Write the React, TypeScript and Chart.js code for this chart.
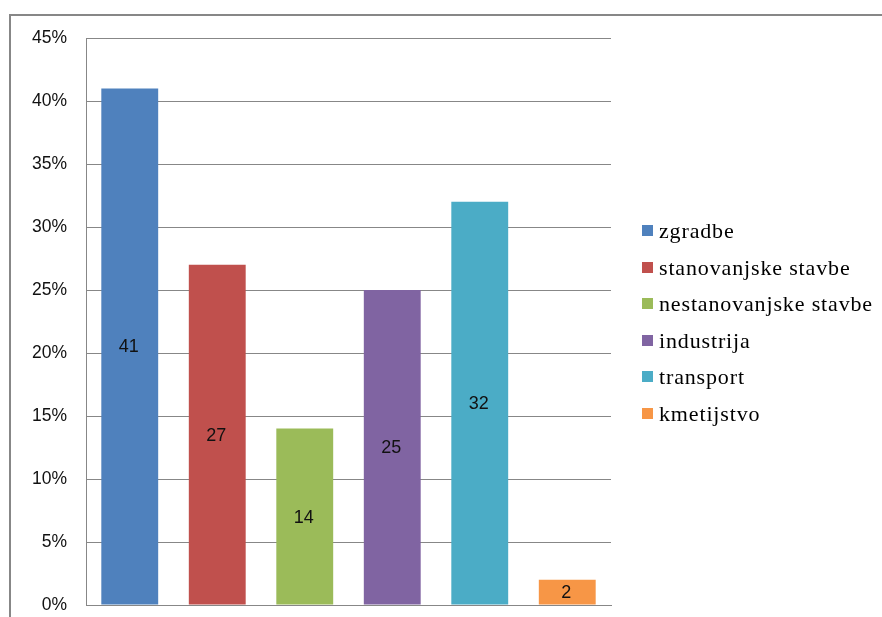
import React, { useEffect, useRef } from "react";
import { Chart, registerables } from "chart.js";

Chart.register(...registerables);

const categories = [
  "zgradbe",
  "stanovanjske stavbe",
  "nestanovanjske stavbe",
  "industrija",
  "transport",
  "kmetijstvo",
];
const values = [41, 27, 14, 25, 32, 2];
const colors = ["#4F81BD", "#C0504D", "#9BBB59", "#8064A2", "#4BACC6", "#F79646"];
const yMax = 45;
const yStep = 5;

const W = 882;
const H = 617;

const framePlugin = {
  id: "frame",
  beforeDraw(chart: any) {
    const ctx = chart.ctx;
    ctx.save();
    ctx.fillStyle = "#ffffff";
    ctx.fillRect(0, 0, chart.width, chart.height);
    ctx.fillStyle = "#878787";
    ctx.fillRect(9, 14, chart.width, 2);
    ctx.fillRect(9, 14, 2, chart.height);
    ctx.restore();
  },
};

const valueLabelPlugin = {
  id: "valueLabels",
  afterDatasetsDraw(chart: any) {
    const ctx = chart.ctx;
    const meta = chart.getDatasetMeta(0);
    ctx.save();
    ctx.font = "18px 'Liberation Sans', Arial, sans-serif";
    ctx.fillStyle = "#111111";
    ctx.textAlign = "center";
    ctx.textBaseline = "middle";
    meta.data.forEach((bar: any, i: number) => {
      const v = chart.data.datasets[0].data[i];
      ctx.fillText(String(v), bar.x - 1, (bar.y + bar.base) / 2 + 1);
    });
    ctx.restore();
  },
};

const legendPlugin = {
  id: "sideLegend",
  afterDraw(chart: any) {
    const ctx = chart.ctx;
    const labels: string[] = chart.data.labels;
    const bg: string[] = chart.data.datasets[0].backgroundColor;
    const markerX = 642;
    const textX = 659;
    const firstTop = 225;
    const step = 36.6;
    ctx.save();
    ctx.font = "22px 'Liberation Serif', 'Times New Roman', serif";
    try {
      (ctx as any).letterSpacing = "0.85px";
    } catch (e) {}
    ctx.textAlign = "left";
    ctx.textBaseline = "alphabetic";
    labels.forEach((lab, i) => {
      const top = Math.round(firstTop + i * step);
      ctx.fillStyle = bg[i];
      ctx.fillRect(markerX, top, 11, 11);
      ctx.fillStyle = "#000000";
      ctx.fillText(lab, textX, top + 13);
    });
    ctx.restore();
  },
};

export default function App() {
  const ref = useRef<HTMLCanvasElement | null>(null);

  useEffect(() => {
    if (!ref.current) return;
    const chart = new Chart(ref.current, {
      type: "bar",
      data: {
        labels: categories,
        datasets: [
          {
            data: values,
            backgroundColor: colors,
            borderWidth: 0,
            barPercentage: 0.65,
            categoryPercentage: 1,
          },
        ],
      },
      options: {
        animation: false,
        responsive: false,
        devicePixelRatio: 1,
        layout: { padding: { left: 0, top: 38, right: W - 611, bottom: 12 } },
        plugins: {
          legend: { display: false },
          tooltip: { enabled: false },
        },
        scales: {
          x: {
            ticks: { display: false },
            grid: { display: false, drawTicks: false },
            border: { display: true, color: "#878787", width: 1 },
            afterFit: (scale: any) => {
              scale.height = 0;
            },
          },
          y: {
            min: 0,
            max: yMax,
            ticks: {
              stepSize: yStep,
              padding: 0,
              color: "#111111",
              font: { family: "'Liberation Sans', Arial, sans-serif", size: 17.5 },
              callback: (v: any) => v + "%",
            },
            grid: {
              color: "#878787",
              lineWidth: 1,
              drawTicks: true,
              tickLength: 19,
              tickColor: "rgba(0,0,0,0)",
            },
            border: { display: true, color: "#878787", width: 1 },
            afterFit: (scale: any) => {
              scale.width = 86;
            },
          },
        },
      },
      plugins: [framePlugin, valueLabelPlugin, legendPlugin],
    });
    return () => chart.destroy();
  }, []);

  return (
    <div style={{ position: "fixed", left: 0, top: 0, width: W, height: H }}>
      <canvas ref={ref} width={W} height={H} style={{ display: "block" }} />
    </div>
  );
}
